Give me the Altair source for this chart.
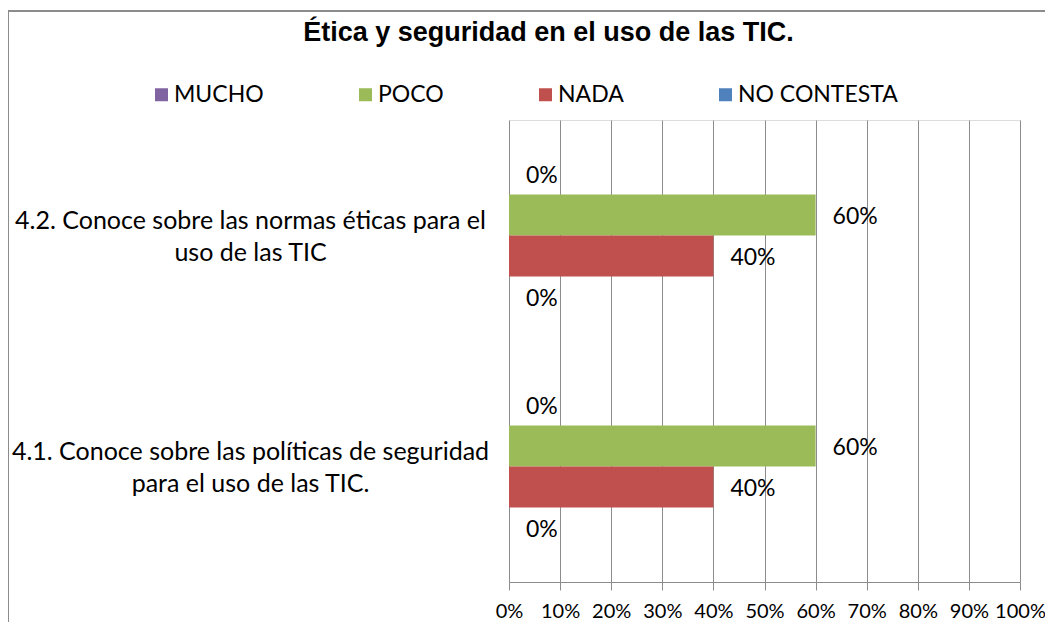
import altair as alt
import pandas as pd

# ---- data ----
categories = [
    "4.2. Conoce sobre las normas éticas para el uso de las TIC",
    "4.1. Conoce sobre las políticas de seguridad para el uso de las TIC.",
]
category_lines = [
    ["4.2. Conoce sobre las normas éticas para el", "uso de las TIC"],
    ["4.1. Conoce sobre las políticas de seguridad", "para el uso de las TIC."],
]
series = ["MUCHO", "POCO", "NADA", "NO CONTESTA"]
series_colors = ["#8064A2", "#9BBB59", "#C0504D", "#4F81BD"]
values_4_2 = [0.0, 0.6, 0.4, 0.0]
values_4_1 = [0.0, 0.6, 0.4, 0.0]
x_ticks = [0, 0.1, 0.2, 0.3, 0.4, 0.5, 0.6, 0.7, 0.8, 0.9, 1.0]
title_text = "Ética y seguridad en el uso de las TIC."

rows = []
for cat, vals in zip(categories, [values_4_2, values_4_1]):
    for s, v in zip(series, vals):
        rows.append({"categoria": cat, "serie": s, "valor": v})
df = pd.DataFrame(rows)

# two-line category labels
line_arrays = ["[" + ", ".join("'" + l + "'" for l in lines) + "]" for lines in category_lines]
label_expr = f"datum.label == '{categories[0]}' ? {line_arrays[0]} : {line_arrays[1]}"

FONT = "Lato"
GRID = "#8C8C8C"

base = alt.Chart(df).encode(
    y=alt.Y(
        "categoria:N",
        sort=categories,
        title=None,
        scale=alt.Scale(paddingInner=0, paddingOuter=0),
        axis=alt.Axis(
            domain=False,
            ticks=False,
            labelExpr=label_expr,
            labelAlign="center",
            labelBaseline="middle",
            labelPadding=259,
            labelOffset=-15,
            labelFont=FONT,
            labelFontSize=25,
            labelColor="#000000",
            labelLineHeight=32,
            labelLimit=600,
        ),
    ),
    yOffset=alt.YOffset(
        "serie:N",
        sort=series,
        scale=alt.Scale(paddingInner=0, paddingOuter=0.805),
    ),
    x=alt.X(
        "valor:Q",
        title=None,
        scale=alt.Scale(domain=[0, 1], nice=False),
        axis=alt.Axis(
            values=x_ticks,
            format=".0%",
            grid=True,
            gridColor=GRID,
            gridWidth=1,
            domainColor=GRID,
            domainWidth=1,
            tickColor=GRID,
            tickSize=8,
            tickWidth=1,
            labelPadding=11,
            labelFont=FONT,
            labelFontSize=20,
            labelColor="#000000",
            labelFlush=False,
            labelOverlap=False,
        ),
    ),
)

bars = base.mark_bar(size=41).encode(
    color=alt.Color(
        "serie:N",
        sort=series,
        scale=alt.Scale(domain=series, range=series_colors),
        legend=alt.Legend(
            title=None,
            orient="none",
            legendX=-359,
            legendY=-37,
            direction="horizontal",
            columnPadding=90,
            symbolType="square",
            symbolSize=169,
            symbolStrokeWidth=0,
            labelOffset=1,
            labelFont=FONT,
            labelFontSize=23,
            labelColor="#000000",
            labelLimit=400,
        ),
    )
)

labels = base.mark_text(
    align="left", baseline="middle", dx=17, dy=2, font=FONT, fontSize=23, color="#000000"
).encode(text=alt.Text("valor:Q", format=".0%"))

frame = alt.Chart(alt.Data(values=[{"k": 1}])).mark_rect(
    fill=None, fillOpacity=0, stroke="#8C8C8C", strokeWidth=2
).encode(
    x=alt.value(-501), x2=alt.value(700), y=alt.value(-109), y2=alt.value(700)
)

chart = (
    alt.layer(frame, bars, labels)
    .properties(
        width=511,
        height=462,
        padding={"left": 501, "top": 112, "right": 25, "bottom": 40},
        autosize=alt.AutoSizeParams(type="none"),
        title=alt.TitleParams(
            title_text,
            font="Liberation Sans",
            fontSize=27,
            fontWeight="bold",
            color="#000000",
            anchor="middle",
            dx=-216,
            offset=-37,
        ),
    )
    .configure_view(stroke=None)
    .configure(background="white")
)

chart.save("out.html", embed_options={"renderer": "svg", "actions": False})
